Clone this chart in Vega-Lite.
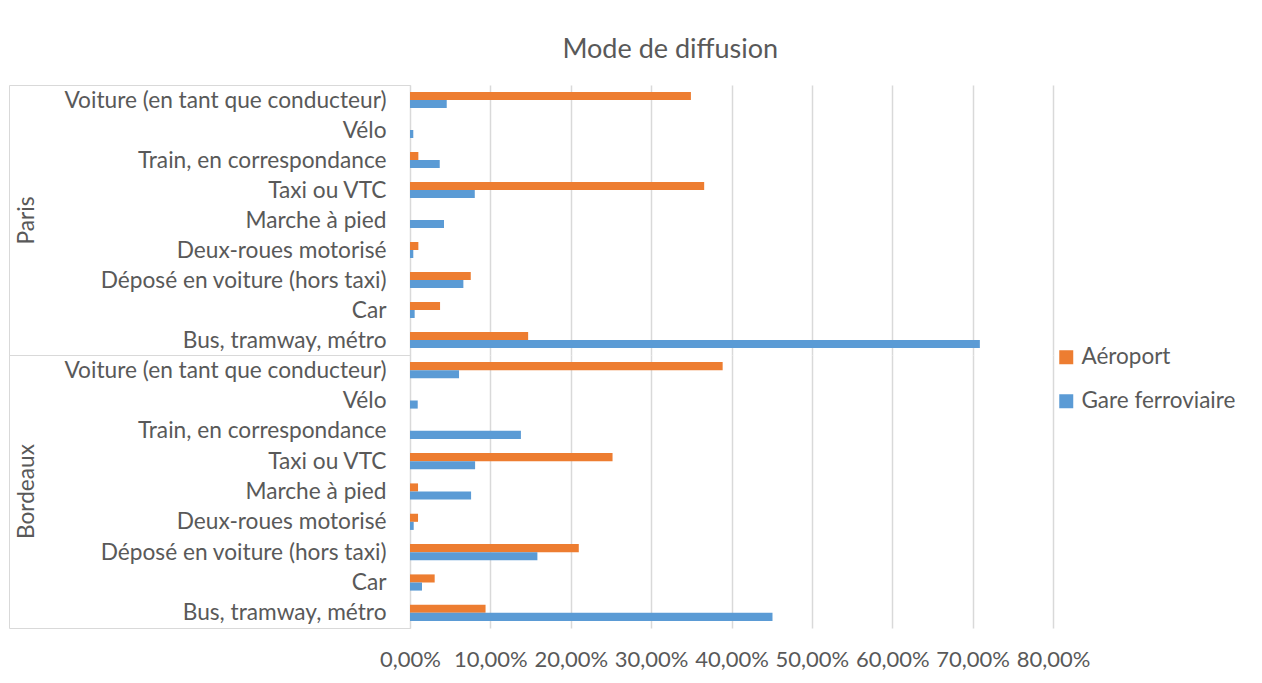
{
  "$schema": "https://vega.github.io/schema/vega-lite/v6.json",
  "background": "white",
  "autosize": {"type": "pad"},
  "padding": {"left": 8, "top": 36, "right": 2, "bottom": 2},
  "title": {"text": "Mode de diffusion", "font": "Lato", "fontSize": 27, "fontWeight": "normal", "color": "#595959", "anchor": "middle", "offset": 10, "dx": 48},
  "config": {
    "font": "Lato",
    "view": {"stroke": null},
    "axis": {"labelFont": "Lato", "labelColor": "#595959", "titleColor": "#595959", "titleFont": "Lato"},
    "legend": {"labelFont": "Lato"}
  },
  "datasets": {
    "d": [
      {"ville": "Paris", "mode": "Voiture (en tant que conducteur)", "serie": "Aéroport", "valeur": 0.3495},
      {"ville": "Paris", "mode": "Voiture (en tant que conducteur)", "serie": "Gare ferroviaire", "valeur": 0.0457},
      {"ville": "Paris", "mode": "Vélo", "serie": "Aéroport", "valeur": 0},
      {"ville": "Paris", "mode": "Vélo", "serie": "Gare ferroviaire", "valeur": 0.0041},
      {"ville": "Paris", "mode": "Train, en correspondance", "serie": "Aéroport", "valeur": 0.0104},
      {"ville": "Paris", "mode": "Train, en correspondance", "serie": "Gare ferroviaire", "valeur": 0.037},
      {"ville": "Paris", "mode": "Taxi ou VTC", "serie": "Aéroport", "valeur": 0.366},
      {"ville": "Paris", "mode": "Taxi ou VTC", "serie": "Gare ferroviaire", "valeur": 0.0806},
      {"ville": "Paris", "mode": "Marche à pied", "serie": "Aéroport", "valeur": 0},
      {"ville": "Paris", "mode": "Marche à pied", "serie": "Gare ferroviaire", "valeur": 0.0423},
      {"ville": "Paris", "mode": "Deux-roues motorisé", "serie": "Aéroport", "valeur": 0.0104},
      {"ville": "Paris", "mode": "Deux-roues motorisé", "serie": "Gare ferroviaire", "valeur": 0.0041},
      {"ville": "Paris", "mode": "Déposé en voiture (hors taxi)", "serie": "Aéroport", "valeur": 0.0756},
      {"ville": "Paris", "mode": "Déposé en voiture (hors taxi)", "serie": "Gare ferroviaire", "valeur": 0.0664},
      {"ville": "Paris", "mode": "Car", "serie": "Aéroport", "valeur": 0.0374},
      {"ville": "Paris", "mode": "Car", "serie": "Gare ferroviaire", "valeur": 0.0058},
      {"ville": "Paris", "mode": "Bus, tramway, métro", "serie": "Aéroport", "valeur": 0.147},
      {"ville": "Paris", "mode": "Bus, tramway, métro", "serie": "Gare ferroviaire", "valeur": 0.709},
      {"ville": "Bordeaux", "mode": "Voiture (en tant que conducteur)", "serie": "Aéroport", "valeur": 0.389},
      {"ville": "Bordeaux", "mode": "Voiture (en tant que conducteur)", "serie": "Gare ferroviaire", "valeur": 0.061},
      {"ville": "Bordeaux", "mode": "Vélo", "serie": "Aéroport", "valeur": 0},
      {"ville": "Bordeaux", "mode": "Vélo", "serie": "Gare ferroviaire", "valeur": 0.0096},
      {"ville": "Bordeaux", "mode": "Train, en correspondance", "serie": "Aéroport", "valeur": 0},
      {"ville": "Bordeaux", "mode": "Train, en correspondance", "serie": "Gare ferroviaire", "valeur": 0.138},
      {"ville": "Bordeaux", "mode": "Taxi ou VTC", "serie": "Aéroport", "valeur": 0.252},
      {"ville": "Bordeaux", "mode": "Taxi ou VTC", "serie": "Gare ferroviaire", "valeur": 0.081},
      {"ville": "Bordeaux", "mode": "Marche à pied", "serie": "Aéroport", "valeur": 0.01},
      {"ville": "Bordeaux", "mode": "Marche à pied", "serie": "Gare ferroviaire", "valeur": 0.076},
      {"ville": "Bordeaux", "mode": "Deux-roues motorisé", "serie": "Aéroport", "valeur": 0.01},
      {"ville": "Bordeaux", "mode": "Deux-roues motorisé", "serie": "Gare ferroviaire", "valeur": 0.0046},
      {"ville": "Bordeaux", "mode": "Déposé en voiture (hors taxi)", "serie": "Aéroport", "valeur": 0.21},
      {"ville": "Bordeaux", "mode": "Déposé en voiture (hors taxi)", "serie": "Gare ferroviaire", "valeur": 0.1585},
      {"ville": "Bordeaux", "mode": "Car", "serie": "Aéroport", "valeur": 0.0307},
      {"ville": "Bordeaux", "mode": "Car", "serie": "Gare ferroviaire", "valeur": 0.0149},
      {"ville": "Bordeaux", "mode": "Bus, tramway, métro", "serie": "Aéroport", "valeur": 0.094},
      {"ville": "Bordeaux", "mode": "Bus, tramway, métro", "serie": "Gare ferroviaire", "valeur": 0.451}
    ]
  },
  "spacing": 0,
  "bounds": "flush",
  "resolve": {"scale": {"y": "independent", "yOffset": "independent"}},
  "vconcat": [
    {
      "width": 643,
      "height": 270,
      "data": {"name": "d"},
      "transform": [{"filter": "datum.ville === 'Paris'"}],
      "resolve": {"scale": {"y": "independent"}, "axis": {"y": "independent"}},
      "layer": [
        {
          "mark": {"type": "bar"},
          "encoding": {
            "y": {
              "field": "mode", "type": "nominal",
              "sort": ["Voiture (en tant que conducteur)", "Vélo", "Train, en correspondance", "Taxi ou VTC", "Marche à pied", "Deux-roues motorisé", "Déposé en voiture (hors taxi)", "Car", "Bus, tramway, métro"],
              "scale": {"paddingInner": 0, "paddingOuter": 0},
              "axis": {
                "orient": "left",
                "title": "Paris", "titleX": -384, "titleY": 135, "titleAngle": -90, "titleAlign": "center", "titleBaseline": "middle",
                "titleFontSize": 22.7, "titleFontWeight": "normal",
                "labelFontSize": 22.7, "labelPadding": -377, "labelLimit": 0,
                "domain": true, "domainColor": "#d9d9d9",
                "tickBand": "extent", "tickSize": 401, "tickWidth": 1,
                "tickColor": {"condition": {"test": "datum.value === 'Bus, tramway, métro' || datum.value == null", "value": "#d9d9d9"}, "value": "rgba(0,0,0,0)"}
              }
            },
            "yOffset": {"field": "serie", "type": "nominal", "sort": ["Aéroport", "Gare ferroviaire"], "scale": {"paddingInner": 0, "paddingOuter": 0.875}},
            "x": {
              "field": "valeur", "type": "quantitative",
              "scale": {"domain": [0, 0.8], "nice": false},
              "axis": {"title": null, "values": [0, 0.1, 0.2, 0.3, 0.4, 0.5, 0.6, 0.7, 0.8], "labels": false, "ticks": false, "domain": false, "grid": true, "gridColor": "#d9d9d9", "gridWidth": 1.5}
            },
            "color": {
              "field": "serie", "type": "nominal",
              "scale": {"domain": ["Aéroport", "Gare ferroviaire"], "range": ["#ED7D31", "#5B9BD5"]},
              "legend": {"title": null, "orient": "none", "legendX": 645, "legendY": 261, "symbolType": "square", "symbolSize": 196, "symbolStrokeWidth": 0, "labelFontSize": 22.5, "labelColor": "#595959", "rowPadding": 21, "labelOffset": 4, "padding": 0}
            }
          }
        },
        {
          "mark": {"type": "point", "opacity": 0},
          "encoding": {
            "x": {"field": "valeur", "type": "quantitative", "scale": {"domain": [0, 0.8], "nice": false}},
            "y": {"field": "valeur", "type": "quantitative", "axis": {"orient": "left", "offset": 401, "title": null, "labels": false, "ticks": false, "grid": false, "domain": true, "domainColor": "#d9d9d9"}}
          }
        }
      ]
    },
    {
      "width": 643,
      "height": 273,
      "data": {"name": "d"},
      "transform": [{"filter": "datum.ville === 'Bordeaux'"}],
      "resolve": {"scale": {"y": "independent"}, "axis": {"y": "independent"}},
      "layer": [
        {
          "mark": {"type": "bar"},
          "encoding": {
            "y": {
              "field": "mode", "type": "nominal",
              "sort": ["Voiture (en tant que conducteur)", "Vélo", "Train, en correspondance", "Taxi ou VTC", "Marche à pied", "Deux-roues motorisé", "Déposé en voiture (hors taxi)", "Car", "Bus, tramway, métro"],
              "scale": {"paddingInner": 0, "paddingOuter": 0},
              "axis": {
                "orient": "left",
                "title": "Bordeaux", "titleX": -384, "titleY": 136, "titleAngle": -90, "titleAlign": "center", "titleBaseline": "middle",
                "titleFontSize": 22.7, "titleFontWeight": "normal",
                "labelFontSize": 22.7, "labelPadding": -377, "labelLimit": 0,
                "domain": true, "domainColor": "#d9d9d9",
                "tickBand": "extent", "tickSize": 401, "tickWidth": 1,
                "tickColor": {"condition": {"test": "datum.value === 'Bus, tramway, métro' || datum.value == null", "value": "#d9d9d9"}, "value": "rgba(0,0,0,0)"}
              }
            },
            "yOffset": {"field": "serie", "type": "nominal", "sort": ["Aéroport", "Gare ferroviaire"], "scale": {"paddingInner": 0, "paddingOuter": 0.875}},
            "x": {
              "field": "valeur", "type": "quantitative",
              "scale": {"domain": [0, 0.8], "nice": false},
              "axis": {"title": null, "values": [0, 0.1, 0.2, 0.3, 0.4, 0.5, 0.6, 0.7, 0.8], "labelExpr": "replace(format(datum.value, '.2%'), '.', ',')", "labelFontSize": 22, "labelPadding": 21, "labelOverlap": false, "labelFlush": false, "ticks": false, "domain": false, "grid": true, "gridColor": "#d9d9d9", "gridWidth": 1.5}
            },
            "color": {
              "field": "serie", "type": "nominal",
              "scale": {"domain": ["Aéroport", "Gare ferroviaire"], "range": ["#ED7D31", "#5B9BD5"]}
            }
          }
        },
        {
          "mark": {"type": "point", "opacity": 0},
          "encoding": {
            "x": {"field": "valeur", "type": "quantitative", "scale": {"domain": [0, 0.8], "nice": false}},
            "y": {"field": "valeur", "type": "quantitative", "axis": {"orient": "left", "offset": 401, "title": null, "labels": false, "ticks": false, "grid": false, "domain": true, "domainColor": "#d9d9d9"}}
          }
        }
      ]
    }
  ]
}
